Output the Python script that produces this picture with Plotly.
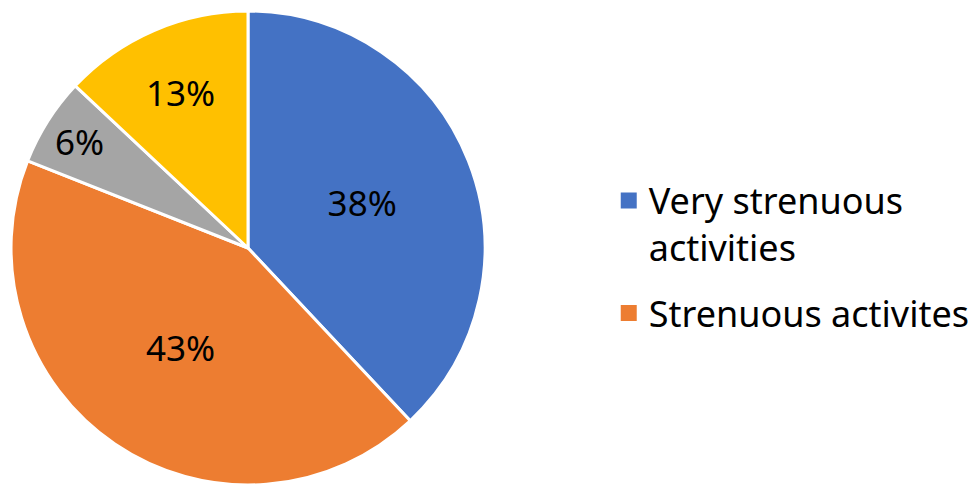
import plotly.graph_objects as go

labels = ["Very strenuous activities", "Strenuous activites", "Moderate activities", "Light activities"]
legend_text = ["Very strenuous<br>activities", "Strenuous activites"]
values = [38, 43, 6, 13]
colors = ["#4472C4", "#ED7D31", "#A5A5A5", "#FFC000"]
legend_count = 2

fig = go.Figure()
fig.add_trace(go.Pie(
    labels=labels, values=values, sort=False, direction="clockwise", rotation=0,
    marker=dict(colors=colors, line=dict(color="white", width=3)),
    textinfo="percent", texttemplate="%{percent:.0%}", textposition="inside",
    insidetextorientation="horizontal",
    textfont=dict(family="Noto Sans", size=35, color="black"),
    showlegend=False, hoverinfo="label+percent",
    domain=dict(x=[0.0031, 0.4867], y=[0.0165, 0.9938]),
))
for i in range(legend_count):
    fig.add_trace(go.Scatter(
        x=[None], y=[None], mode="markers", name=legend_text[i],
        legendgroup="g%d" % i,
        marker=dict(symbol="square", size=18, color=colors[i]),
        showlegend=True,
    ))

fig.update_layout(
    width=980, height=485, margin=dict(l=0, r=0, t=0, b=0),
    paper_bgcolor="white", plot_bgcolor="white",
    xaxis=dict(visible=False), yaxis=dict(visible=False),
    legend=dict(x=0.613, y=0.665, xanchor="left", yanchor="top", valign="top",
                font=dict(family="Noto Sans", size=36, color="black"),
                itemwidth=30, tracegroupgap=16, bgcolor="rgba(0,0,0,0)"),
)
fig.write_html("out.html")
